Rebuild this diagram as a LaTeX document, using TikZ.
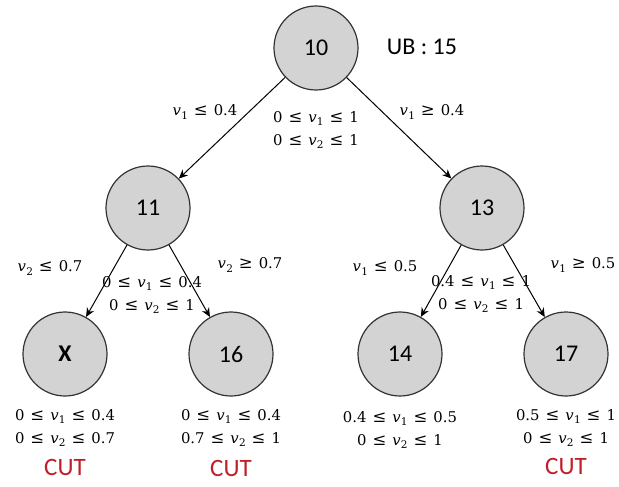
\documentclass[tikz,border=0pt]{standalone}
\usepackage{fontspec}
\setmainfont{Carlito}
\newfontfamily\lblfont{DejaVu Serif}
\usetikzlibrary{arrows.meta}
\definecolor{nodefill}{RGB}{211,211,211}
\definecolor{nodeline}{RGB}{50,50,50}
\definecolor{cutred}{RGB}{192,30,40}
\newcommand\rel[1]{\hspace{6pt}{\fontsize{16.5}{23}\selectfont #1}\hspace{6pt}}
\newcommand\vsub[1]{\textit{v}\kern0.3pt\raisebox{-3.5pt}{\fontsize{10.5}{10}\selectfont #1}}
\newcommand\lee{\rel{≤}}
\newcommand\gee{\rel{≥}}
\tikzset{
  bb/.style={circle, draw=nodeline, fill=nodefill, line width=1.2pt, minimum size=84pt, inner sep=0pt, font=\fontsize{24}{28}\selectfont},
  arr/.style={-{Stealth[length=9pt,width=8pt]}, line width=1pt, draw=black},
  lab/.style={font={\lblfont\fontsize{14.8}{23}\selectfont}, align=center, inner sep=0pt},
  cut/.style={font=\fontsize{25}{28}\selectfont, text=cutred, inner sep=0pt}
}
\begin{document}
\begin{tikzpicture}[x=1pt,y=-1pt]
\useasboundingbox (0,0) rectangle (619,487);
\node[bb] (n10) at (316,48) {10};
\node[bb] (n11) at (148,208) {11};
\node[bb] (n13) at (482,208) {13};
\node[bb] (nX) at (65,354) {\textbf{X}};
\node[bb] (n16) at (231,354) {16};
\node[bb] (n14) at (400,354) {14};
\node[bb] (n17) at (566,354) {17};

\node[inner sep=0pt, font=\fontsize{24}{28}\selectfont] (ub) at (422,47) {UB : 15};

\draw[arr] (n10) -- (n11);
\draw[arr] (n10) -- (n13);
\draw[arr] (n11) -- (nX);
\draw[arr] (n11) -- (n16);
\draw[arr] (n13) -- (n14);
\draw[arr] (n13) -- (n17);

\node[lab] (l1) at (205,112) {\vsub{1}\lee 0.4};
\node[lab] (l2) at (316,130) {0\lee\vsub{1}\lee 1\\0\lee\vsub{2}\lee 1};
\node[lab] (l3) at (432,112) {\vsub{1}\gee 0.4};

\node[lab] (l4) at (50,268) {\vsub{2}\lee 0.7};
\node[lab] (l5) at (152,295) {0\lee\vsub{1}\lee 0.4\\0\lee\vsub{2}\lee 1};
\node[lab] (l6) at (250,265) {\vsub{2}\gee 0.7};

\node[lab] (l7) at (385,268) {\vsub{1}\lee 0.5};
\node[lab] (l8) at (481,294) {0.4\lee\vsub{1}\lee 1\\0\lee\vsub{2}\lee 1};
\node[lab] (l9) at (583,265) {\vsub{1}\gee 0.5};

\node[lab] (bX) at (65,428) {0\lee\vsub{1}\lee 0.4\\0\lee\vsub{2}\lee 0.7};
\node[lab] (b16) at (231,428) {0\lee\vsub{1}\lee 0.4\\0.7\lee\vsub{2}\lee 1};
\node[lab] (b14) at (400,430) {0.4\lee\vsub{1}\lee 0.5\\0\lee\vsub{2}\lee 1};
\node[lab] (b17) at (566,428) {0.5\lee\vsub{1}\lee 1\\0\lee\vsub{2}\lee 1};

\node[cut] (cX) at (65,467) {CUT};
\node[cut] (c16) at (231,468) {CUT};
\node[cut] (c17) at (566,466) {CUT};
\end{tikzpicture}
\end{document}
